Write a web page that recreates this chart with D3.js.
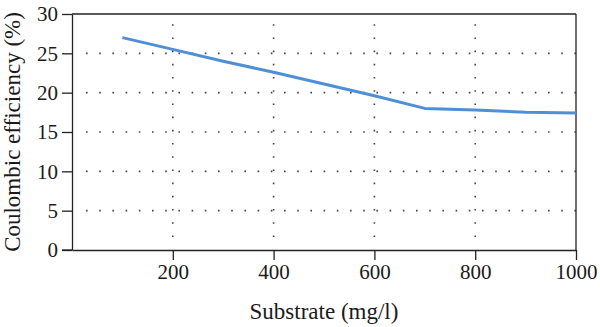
<!DOCTYPE html>
<html>
<head>
<meta charset="utf-8">
<script src="https://cdn.jsdelivr.net/npm/d3@7"></script>
<style>
  html, body { margin: 0; padding: 0; background: #fff; }
  svg { display: block; }
  text { font-family: "Liberation Serif", "DejaVu Serif", serif; fill: #1a1a1a; }
</style>
</head>
<body>
<svg id="chart" width="600" height="327"></svg>
<script>
const substrate = [100, 200, 300, 400, 500, 600, 700, 800, 900, 1000];
const efficiency = [27.0, 25.5, 24.0, 22.6, 21.1, 19.6, 18.0, 17.8, 17.5, 17.4];
const xTicks = [200, 400, 600, 800, 1000];
const yTicks = [0, 5, 10, 15, 20, 25, 30];
const xLabel = "Substrate (mg/l)";
const yLabel = "Coulombic efficiency (%)";

const svg = d3.select("#chart");
const m = { left: 72, right: 24, top: 14, bottom: 77 };
const W = 600, H = 327;
const x = d3.scaleLinear().domain([0, 1000]).range([m.left, W - m.right]);
const y = d3.scaleLinear().domain([0, 30]).range([H - m.bottom, m.top]);

// grid
const grid = svg.append("g");
grid.selectAll("line.h").data(yTicks.filter(d => d > 0 && d < 30)).join("line")
  .attr("x1", x(0) + 14).attr("x2", x(1000))
  .attr("y1", d => y(d)).attr("y2", d => y(d))
  .attr("stroke", "#444").attr("stroke-width", 1.6)
  .attr("stroke-dasharray", "1.6,11.6");
grid.selectAll("line.v").data(xTicks.filter(d => d < 1000)).join("line")
  .attr("x1", d => x(d)).attr("x2", d => x(d))
  .attr("y1", y(0) - 13).attr("y2", y(30))
  .attr("stroke", "#444").attr("stroke-width", 1.6)
  .attr("stroke-dasharray", "1.6,11.6");

// frame top/right
svg.append("line").attr("x1", x(0)).attr("x2", x(1000)).attr("y1", y(30)).attr("y2", y(30))
  .attr("stroke", "#222").attr("stroke-width", 1.3);
svg.append("line").attr("x1", x(1000)).attr("x2", x(1000)).attr("y1", y(30)).attr("y2", y(0))
  .attr("stroke", "#222").attr("stroke-width", 1.3);

// axes
const xAxis = svg.append("g").attr("transform", `translate(0,${y(0)})`)
  .call(d3.axisBottom(x).tickValues(xTicks).tickFormat(d3.format("d")).tickSize(10).tickPadding(4).tickSizeOuter(0));
const yAxis = svg.append("g").attr("transform", `translate(${x(0)},0)`)
  .call(d3.axisLeft(y).tickValues(yTicks).tickFormat(d3.format("d")).tickSize(10).tickPadding(4).tickSizeOuter(0));
[xAxis, yAxis].forEach(a => {
  a.select(".domain").attr("stroke", "#222").attr("stroke-width", 1.3);
  a.selectAll(".tick line").attr("stroke", "#222").attr("stroke-width", 1.3);
  a.selectAll(".tick text").style("font-family", '"Liberation Serif", serif')
    .style("font-size", "21px").attr("fill", "#1a1a1a");
});
// extend x-axis baseline to the left under the 0 tick
svg.append("line").attr("x1", x(0) - 10).attr("x2", x(0)).attr("y1", y(0)).attr("y2", y(0))
  .attr("stroke", "#222").attr("stroke-width", 1.3);

// line
const line = d3.line().x((d, i) => x(substrate[i])).y(d => y(d));
svg.append("path").datum(efficiency).attr("d", line)
  .attr("fill", "none").attr("stroke", "#4f8fd6").attr("stroke-width", 3)
  .attr("stroke-linejoin", "round");

// labels
svg.append("text").attr("x", (x(0) + x(1000)) / 2).attr("y", 319)
  .attr("text-anchor", "middle").style("font-size", "23px").text(xLabel);
svg.append("text").attr("transform", `translate(20,${(y(0) + y(30)) / 2}) rotate(-90)`)
  .attr("text-anchor", "middle").style("font-size", "23px").text(yLabel);
</script>
</body>
</html>
